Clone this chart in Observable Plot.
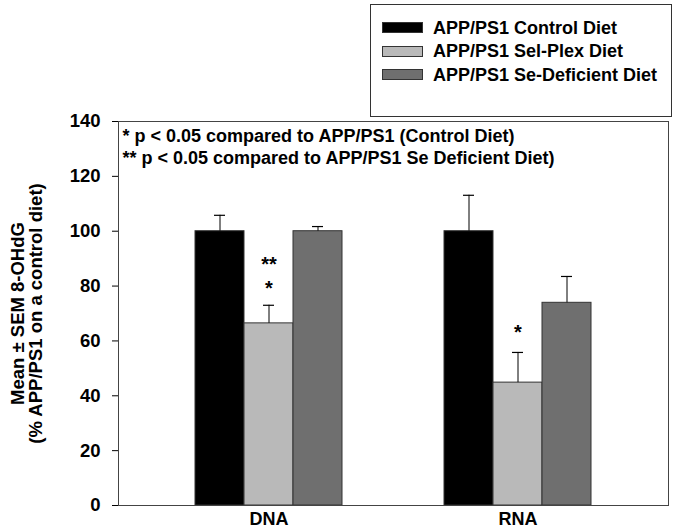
<!DOCTYPE html>
<html>
<head>
<meta charset="utf-8">
<script src="https://cdn.jsdelivr.net/npm/d3@7"></script>
<script src="https://cdn.jsdelivr.net/npm/@observablehq/plot@0.6"></script>
<style>
  html, body { margin: 0; padding: 0; background: #fff; }
  #wrap { position: relative; width: 678px; height: 531px; font-family: "Liberation Sans", Arial, Helvetica, sans-serif; }
  #chart, #over { position: absolute; left: 0; top: 0; }
  #over svg { background: transparent !important; }
  #over { pointer-events: none; }
  #legend { position: absolute; left: 370px; top: 4px; width: 302px; height: 113px; border: 1px solid #333; background: #fff; box-sizing: border-box; }
  .row { position: absolute; left: 11px; height: 12px; display: flex; align-items: center; white-space: nowrap; }
  .sw { width: 41px; height: 11px; border: 1px solid #333; box-sizing: border-box; margin-right: 10px; }
  .lt { font-weight: bold; font-size: 18px; color: #000; line-height: 12px; }
</style>
</head>
<body>
<div id="wrap"><div id="chart"></div><div id="over"></div><div id="legend"></div></div>
<script>
// ---- data ----
const groups = ["DNA", "RNA"];
const diets = ["APP/PS1 Control Diet", "APP/PS1 Sel-Plex Diet", "APP/PS1 Se-Deficient Diet"];
const dietColors = ["#000000", "#b9b9b9", "#6f6f6f"];
const dnaMean = [100, 66.4, 100];
const dnaSem = [5.8, 6.6, 1.7];
const rnaMean = [100, 44.8, 73.9];
const rnaSem = [13.1, 11.0, 9.6];
const starGroup = ["DNA", "DNA", "RNA"];
const starDiet = [diets[1], diets[1], diets[1]];
const starY = [88, 79, 63];
const starText = ["**", "*", "*"];
const yTicks = [0, 20, 40, 60, 80, 100, 120, 140];
const notes = ["* p < 0.05 compared to APP/PS1 (Control Diet)", "** p < 0.05 compared to APP/PS1 Se Deficient Diet)"];
const yLabel = "Mean \u00b1 SEM 8-OHdG\n(% APP/PS1 on a control diet)";

const rows = [];
groups.forEach((g, gi) => {
  const m = gi === 0 ? dnaMean : rnaMean;
  const s = gi === 0 ? dnaSem : rnaSem;
  diets.forEach((d, di) => rows.push({group: g, diet: d, mean: m[di], top: m[di] + s[di]}));
});
const stars = starText.map((t, i) => ({group: starGroup[i], diet: starDiet[i], y: starY[i], text: t}));

const font = "'Liberation Sans', Arial, Helvetica, sans-serif";
const dims = {width: 678, height: 531, marginLeft: 118, marginRight: 10, marginTop: 121, marginBottom: 26};

// bars (faceted by DNA / RNA)
const chart = Plot.plot({
  ...dims,
  style: {fontFamily: font, background: "white", color: "black"},
  fx: {domain: groups, paddingInner: 0.4, paddingOuter: 0.3, label: null},
  x: {domain: diets, padding: 0, axis: null},
  y: {domain: [0, 140], axis: null},
  color: {domain: diets, range: dietColors},
  marks: [
    Plot.barY(rows, {fx: "group", x: "diet", y: "mean", fill: "diet", stroke: "#333", strokeWidth: 1}),
    Plot.ruleX(rows, {fx: "group", x: "diet", y1: "mean", y2: "top", stroke: "#000", strokeWidth: 1}),
    Plot.tickY(rows, {fx: "group", x: "diet", y: "top", insetLeft: 19, insetRight: 19, stroke: "#000", strokeWidth: 1.2}),
    Plot.text(stars, {fx: "group", x: "diet", y: "y", text: "text", fontSize: 20, fontWeight: "bold", fill: "#000"}),
    Plot.axisFx({anchor: "bottom", tickSize: 0, tickPadding: 7, fontSize: 18, fontWeight: "bold", label: null})
  ]
});
document.getElementById("chart").appendChild(chart);

// frame, y axis and notes (whole plot area, unfaceted)
const over = Plot.plot({
  ...dims,
  style: {fontFamily: font, background: "transparent", color: "black"},
  y: {domain: [0, 140]},
  marks: [
    Plot.frame({stroke: "#444", strokeWidth: 1}),
    Plot.text([notes.join("\n")], {frameAnchor: "top-left", textAnchor: "start", lineAnchor: "top", lineHeight: 1.22, dx: 4, dy: 5, fontSize: 18, fontWeight: "bold", fill: "#000"}),
    Plot.axisY({ticks: yTicks, tickSize: 6, tickPadding: 12, fontSize: 18.5, fontWeight: "bold",
      label: yLabel, labelAnchor: "center", labelArrow: "none", labelOffset: 108})
  ]
});
document.getElementById("over").appendChild(over);

// ---- legend ----
const leg = document.getElementById("legend");
diets.forEach((d, i) => {
  const r = document.createElement("div");
  r.className = "row";
  r.style.top = (16.5 + i * 23.5) + "px";
  const sw = document.createElement("div");
  sw.className = "sw";
  sw.style.background = dietColors[i];
  const t = document.createElement("span");
  t.className = "lt";
  t.textContent = d;
  r.appendChild(sw); r.appendChild(t);
  leg.appendChild(r);
});
</script>
</body>
</html>
